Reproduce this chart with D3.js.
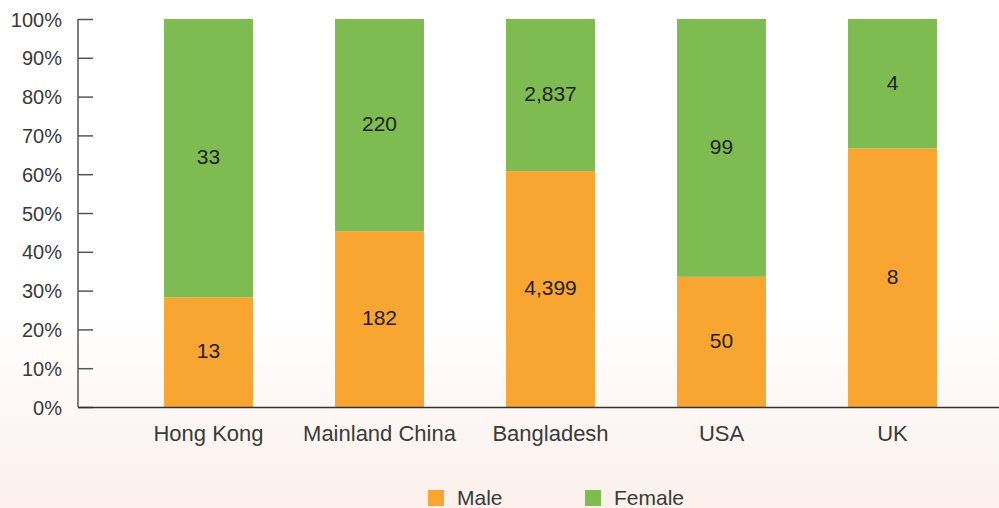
<!DOCTYPE html>
<html>
<head>
<meta charset="utf-8">
<script src="https://cdn.jsdelivr.net/npm/d3@7"></script>
<style>
  html, body { margin: 0; padding: 0; background: #fff; }
  svg { display: block; }
  text { font-family: "Liberation Sans", Arial, sans-serif; }
</style>
</head>
<body>
<svg id="chart" width="999" height="508"></svg>
<script>
const categories = ["Hong Kong", "Mainland China", "Bangladesh", "USA", "UK"];
const maleValues = [13, 182, 4399, 50, 8];
const femaleValues = [33, 220, 2837, 99, 4];
const seriesNames = ["Male", "Female"];
const seriesColors = ["#F8A532", "#7EBC52"];
const yTicks = [0, 0.1, 0.2, 0.3, 0.4, 0.5, 0.6, 0.7, 0.8, 0.9, 1];

const svg = d3.select("#chart");
const W = 999, H = 508;

// soft blush wash toward the bottom of the page
const defs = svg.append("defs");
const grad = defs.append("linearGradient").attr("id", "bg").attr("x1", 0).attr("y1", 0).attr("x2", 0).attr("y2", 1);
grad.append("stop").attr("offset", "0.62").attr("stop-color", "#ffffff");
grad.append("stop").attr("offset", "0.8").attr("stop-color", "#fdf7f5");
grad.append("stop").attr("offset", "1").attr("stop-color", "#fbf0ec");
svg.append("rect").attr("width", W).attr("height", H).attr("fill", "url(#bg)");

const x = d3.scaleBand().domain(categories).range([123, 978]).paddingInner(0.48).paddingOuter(0.24);
const y = d3.scaleLinear().domain([0, 1]).range([407, 19]);

const rows = categories.map((c, i) => ({ category: c, Male: maleValues[i], Female: femaleValues[i] }));
const stacked = d3.stack().keys(seriesNames).offset(d3.stackOffsetExpand)(rows);

// bars
const groups = svg.append("g").selectAll("g").data(stacked).join("g")
  .attr("fill", (d, i) => seriesColors[i]);
groups.selectAll("rect").data(d => d).join("rect")
  .attr("x", d => x(d.data.category))
  .attr("width", x.bandwidth())
  .attr("y", d => y(d[1]))
  .attr("height", d => y(d[0]) - y(d[1]));

// value labels in each segment
const fmt = d3.format(",");
stacked.forEach(s => {
  svg.append("g").selectAll("text").data(s).join("text")
    .attr("x", d => x(d.data.category) + x.bandwidth() / 2)
    .attr("y", d => (y(d[0]) + y(d[1])) / 2)
    .attr("dy", "0.3em")
    .attr("text-anchor", "middle")
    .attr("font-size", 21)
    .attr("fill", "#231f20")
    .text(d => fmt(d.data[s.key]));
});

// y axis
const yAxis = svg.append("g").attr("transform", "translate(78,0)")
  .call(d3.axisRight(y).tickValues(yTicks).tickFormat(d3.format(".0%")).tickSize(15));
yAxis.select(".domain").attr("stroke", "#555").attr("stroke-width", 1.5).attr("d", "M0,19V407");
yAxis.selectAll(".tick line").attr("stroke", "#555").attr("stroke-width", 1.5);
yAxis.selectAll(".tick text")
  .attr("x", -16).attr("text-anchor", "end").attr("dy", "0.35em")
  .attr("font-size", 20).attr("fill", "#3a3a3a");

// baseline
svg.append("line").attr("x1", 78).attr("x2", 999).attr("y1", 407.5).attr("y2", 407.5)
  .attr("stroke", "#333").attr("stroke-width", 1.5);

// category axis labels
const xAxis = svg.append("g").attr("transform", "translate(0,407)")
  .call(d3.axisBottom(x).tickSize(0));
xAxis.select(".domain").remove();
xAxis.selectAll(".tick text").attr("font-size", 22).attr("fill", "#3a3a3a")
  .attr("y", 34).attr("dy", 0);

// legend
const legendX = [428, 585];
const legend = svg.append("g").selectAll("g").data(seriesNames).join("g")
  .attr("transform", (d, i) => `translate(${legendX[i]},490)`);
legend.append("rect").attr("width", 16).attr("height", 16).attr("fill", (d, i) => seriesColors[i]);
legend.append("text").attr("x", 29).attr("y", 15)
  .attr("font-size", 21).attr("fill", "#3a3a3a").text(d => d);
</script>
</body>
</html>
